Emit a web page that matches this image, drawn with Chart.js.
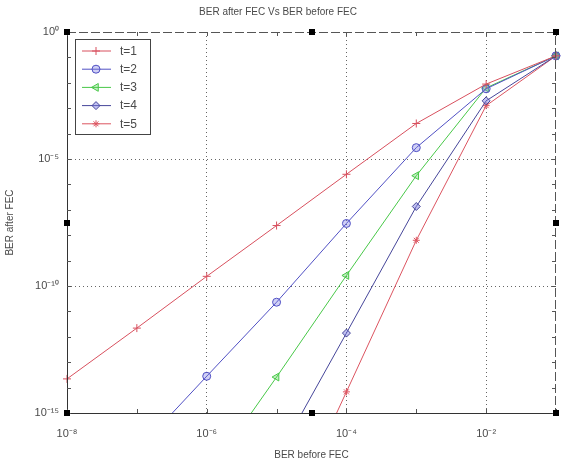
<!DOCTYPE html>
<html>
<head>
<meta charset="utf-8">
<script src="https://cdn.jsdelivr.net/npm/chart.js@4"></script>
<style>
  html, body { margin: 0; padding: 0; background: #fff; }
  #wrap { width: 563px; height: 469px; }
</style>
</head>
<body>
<div id="wrap"><canvas id="berChart" width="563" height="469"></canvas></div>
<script>
// BER before FEC (x), one point per decade
const berBefore = [1e-8, 1e-7, 1e-6, 1e-5, 1e-4, 1e-3, 1e-2, 1e-1];

// BER after FEC per t (null = no point there)
const t1 = [2.2e-14, 2.2e-12, 2.4e-10, 2.4e-8, 2.5e-6, 2.5e-4, 8.9e-3, 0.115];
const t2 = [null, 3.2e-17, 2.8e-14, 2.3e-11, 2.9e-8, 2.8e-5, 5.8e-3, 0.115];
const t3 = [null, null, 3.2e-18, 2.6e-14, 2.6e-10, 2.2e-6, 6.3e-3, 0.115];
const t4 = [null, null, null, 1.6e-17, 1.4e-12, 1.35e-7, 1.95e-3, 0.115];
const t5 = [null, null, null, 8e-21, 6.8e-15, 6.3e-9, 1.26e-3, 0.115];

const seriesNames = ["t=1", "t=2", "t=3", "t=4", "t=5"];

const xTickValues = [1e-8, 1e-6, 1e-4, 1e-2];
const xTickLabels = ["10\u207B\u2078", "10\u207B\u2076", "10\u207B\u2074", "10\u207B\u00B2"];
const yTickValues = [1, 1e-5, 1e-10, 1e-15];
const yTickLabels = ["10\u2070", "10\u207B\u2075", "10\u207B\u00B9\u2070", "10\u207B\u00B9\u2075"];

const FONT = "'Liberation Sans', Arial, sans-serif";
const TXT = "#4a4a4a";

const sameLog = (a, b) => Math.abs(Math.log10(a) - Math.log10(b)) < 1e-6;
const labelFor = (vals, labels, v) => {
  const i = vals.findIndex((m) => sameLog(m, v));
  return i < 0 ? "" : labels[i];
};
const toPoints = (ys) => ys.map((y, i) => ({ x: berBefore[i], y: y })).filter((p) => p.y !== null);

const styles = [
  { color: "#d8505e", fill: "#d8505e", pointStyle: "cross", radius: 4, rotation: 0 },
  { color: "#5050c4", fill: "rgba(120,120,225,0.35)", pointStyle: "circle", radius: 4, rotation: 0 },
  { color: "#48c848", fill: "rgba(90,210,90,0.35)", pointStyle: "triangle", radius: 4.5, rotation: -90 },
  { color: "#46469a", fill: "rgba(120,120,225,0.45)", pointStyle: "rectRot", radius: 4, rotation: 0 },
  { color: "#dc5460", fill: "#dc5460", pointStyle: "star", radius: 3.5, rotation: 0 },
];

const allSeries = [t1, t2, t3, t4, t5];

// frame, inward ticks and the figure handles
const framePlugin = {
  id: "frame",
  afterDraw(chart) {
    const { ctx, chartArea: a, scales } = chart;
    ctx.save();
    ctx.strokeStyle = "#333";
    ctx.lineWidth = 1;
    // left + bottom solid
    ctx.beginPath();
    ctx.moveTo(a.left + 0.5, a.top);
    ctx.lineTo(a.left + 0.5, a.bottom + 0.5);
    ctx.lineTo(a.right, a.bottom + 0.5);
    ctx.stroke();
    // top + right dashed
    ctx.setLineDash([9, 3]);
    ctx.strokeStyle = "#555";
    ctx.beginPath();
    ctx.moveTo(a.left, a.top + 0.5);
    ctx.lineTo(a.right - 0.5, a.top + 0.5);
    ctx.lineTo(a.right - 0.5, a.bottom);
    ctx.stroke();
    ctx.setLineDash([]);
    // inward tick marks
    ctx.strokeStyle = "#555";
    ctx.beginPath();
    scales.x.ticks.forEach((t) => {
      const px = Math.round(scales.x.getPixelForValue(t.value)) + 0.5;
      ctx.moveTo(px, a.bottom); ctx.lineTo(px, a.bottom - 4);
      ctx.moveTo(px, a.top); ctx.lineTo(px, a.top + 4);
    });
    scales.y.ticks.forEach((t) => {
      const py = Math.round(scales.y.getPixelForValue(t.value)) + 0.5;
      ctx.moveTo(a.left, py); ctx.lineTo(a.left + 4, py);
      ctx.moveTo(a.right, py); ctx.lineTo(a.right - 4, py);
    });
    ctx.stroke();
    // black handles
    ctx.fillStyle = "#000";
    const mx = (a.left + a.right) / 2, my = (a.top + a.bottom) / 2;
    [[a.left, a.top], [mx, a.top], [a.right, a.top], [a.left, my], [a.right, my],
     [a.left, a.bottom], [mx, a.bottom], [a.right, a.bottom]].forEach(([hx, hy]) => {
      ctx.fillRect(Math.round(hx) - 3, Math.round(hy) - 3, 6, 6);
    });
    ctx.restore();
  },
};

// legend box inside the plot, top-left
const legendPlugin = {
  id: "boxLegend",
  afterDraw(chart) {
    const { ctx, chartArea: a } = chart;
    const x0 = a.left + 8, y0 = a.top + 7, w = 75, h = 95;
    ctx.save();
    ctx.fillStyle = "#fff";
    ctx.fillRect(x0, y0, w, h);
    ctx.strokeStyle = "#444";
    ctx.lineWidth = 1;
    ctx.strokeRect(x0 + 0.5, y0 + 0.5, w, h);
    ctx.font = "12px " + FONT;
    ctx.textBaseline = "middle";
    seriesNames.forEach((name, i) => {
      const s = styles[i];
      const ly = y0 + 12 + i * 18.2;
      ctx.strokeStyle = s.color;
      ctx.beginPath();
      ctx.moveTo(x0 + 7, ly);
      ctx.lineTo(x0 + 36, ly);
      ctx.stroke();
      ctx.fillStyle = s.fill;
      Chart.helpers.drawPoint(ctx, { pointStyle: s.pointStyle, radius: s.radius, rotation: s.rotation, borderWidth: 1 }, x0 + 21, ly);
      ctx.fillStyle = TXT;
      ctx.fillText(name, x0 + 45, ly + 0.5);
    });
    ctx.restore();
  },
};

const decadeTicks = (from, to) => {
  const out = [];
  for (let e = from; e <= to; e++) out.push({ value: Math.pow(10, e) });
  return out;
};

new Chart(document.getElementById("berChart"), {
  type: "line",
  data: {
    datasets: allSeries.map((ys, i) => ({
      label: seriesNames[i],
      data: toPoints(ys),
      borderColor: styles[i].color,
      backgroundColor: styles[i].fill,
      borderWidth: 1,
      pointStyle: styles[i].pointStyle,
      pointRadius: styles[i].radius,
      pointRotation: styles[i].rotation,
      pointBorderColor: styles[i].color,
      pointBackgroundColor: styles[i].fill,
      pointBorderWidth: 1,
      tension: 0,
      clip: { left: 6, right: 6, top: 0, bottom: 0 },
    })),
  },
  options: {
    responsive: false,
    animation: false,
    layout: { padding: { left: 0, right: 7, top: 0, bottom: 0 } },
    plugins: {
      legend: { display: false },
      tooltip: { enabled: false },
      title: {
        display: true,
        text: "BER after FEC Vs BER before FEC",
        color: TXT,
        font: { family: FONT, size: 10, weight: "normal" },
        padding: { top: 6, bottom: 14 },
      },
    },
    scales: {
      x: {
        type: "logarithmic",
        min: 1e-8,
        max: 1e-1,
        afterBuildTicks: (scale) => { scale.ticks = decadeTicks(-8, -1); },
        afterFit: (scale) => { scale.height = 56; scale.paddingLeft = 0; scale.paddingRight = 0; },
        ticks: {
          autoSkip: false,
          maxRotation: 0,
          padding: 14,
          color: TXT,
          font: { family: FONT, size: 11 },
          callback: (v) => labelFor(xTickValues, xTickLabels, v),
        },
        grid: {
          drawTicks: false,
          lineWidth: 1,
          color: (c) => {
            const v = c.tick && c.tick.value;
            if (!v || sameLog(v, 1e-8) || sameLog(v, 1e-1)) return "transparent";
            return labelFor(xTickValues, xTickLabels, v) ? "#666" : "transparent";
          },
        },
        border: { display: false, dash: [1, 3] },
        title: {
          display: true,
          text: "BER before FEC",
          color: TXT,
          font: { family: FONT, size: 10 },
          padding: { top: 0, bottom: 8 },
        },
      },
      y: {
        type: "logarithmic",
        min: 1e-15,
        max: 1,
        afterBuildTicks: (scale) => { scale.ticks = decadeTicks(-15, 0); },
        afterFit: (scale) => { scale.width = 67; scale.paddingTop = 0; scale.paddingBottom = 0; },
        ticks: {
          autoSkip: false,
          padding: 8,
          color: TXT,
          font: { family: FONT, size: 11 },
          callback: (v) => labelFor(yTickValues, yTickLabels, v),
        },
        grid: {
          drawTicks: false,
          lineWidth: 1,
          color: (c) => {
            const v = c.tick && c.tick.value;
            if (!v || sameLog(v, 1) || sameLog(v, 1e-15)) return "transparent";
            return labelFor(yTickValues, yTickLabels, v) ? "#666" : "transparent";
          },
        },
        border: { display: false, dash: [1, 3] },
        title: {
          display: true,
          text: "BER after FEC",
          color: TXT,
          font: { family: FONT, size: 10 },
          padding: { top: 4, bottom: 0 },
        },
      },
    },
  },
  plugins: [framePlugin, legendPlugin],
});
</script>
</body>
</html>
